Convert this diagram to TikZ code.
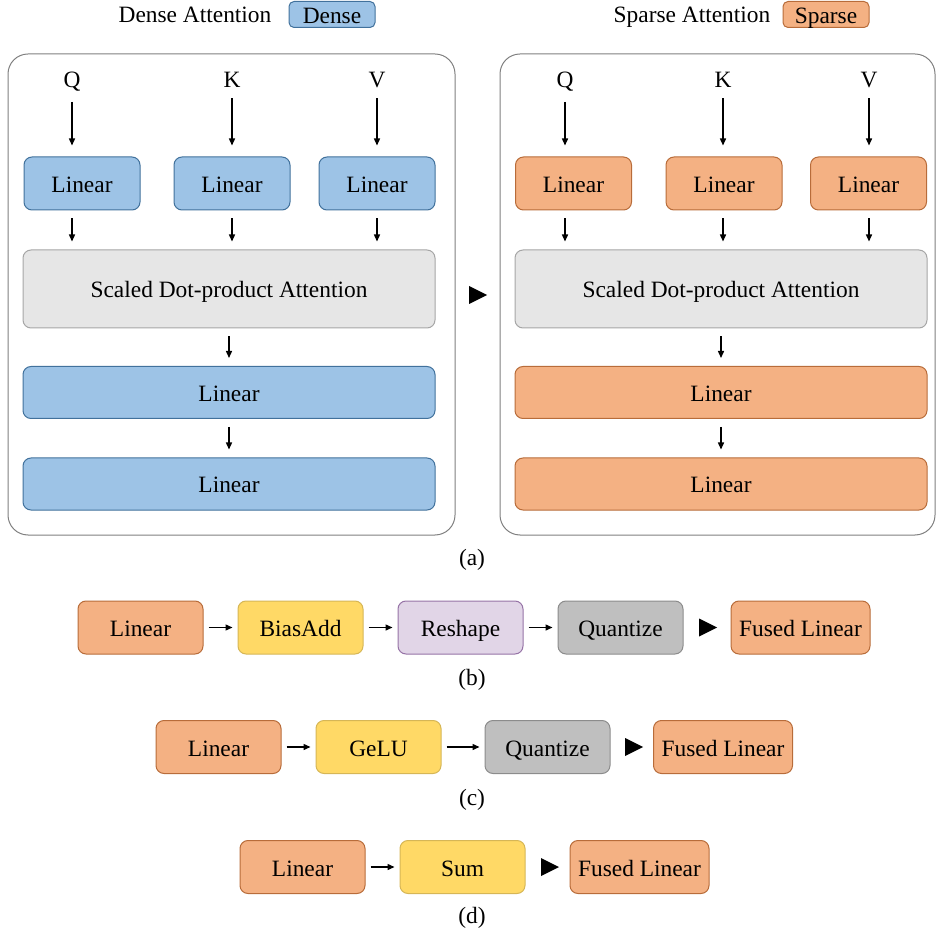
\documentclass[tikz,border=0pt]{standalone}
\usepackage{fontspec}
\setmainfont{Liberation Serif}
\usetikzlibrary{arrows.meta}
\definecolor{denseblue}{RGB}{157,195,230}
\definecolor{denseline}{RGB}{65,113,156}
\definecolor{sparseorange}{RGB}{244,177,131}
\definecolor{sparseline}{RGB}{184,108,58}
\definecolor{opyellow}{RGB}{255,217,102}
\definecolor{opyellowline}{RGB}{214,182,86}
\definecolor{oppurple}{RGB}{225,213,231}
\definecolor{oppurpleline}{RGB}{150,115,166}
\definecolor{opgray}{RGB}{191,191,191}
\definecolor{opgrayline}{RGB}{140,140,140}
\definecolor{attngray}{RGB}{230,230,230}
\definecolor{attnline}{RGB}{166,166,166}
\newcommand{\playtri}[2]{\fill (#1-9,#2-9) -- (#1+9,#2) -- (#1-9,#2+9) -- cycle;}

\begin{document}
\begin{tikzpicture}[x=0.5pt, y=-0.5pt, font=\fontsize{11.7}{13.5}\selectfont, blk/.style={draw, rounded corners=4pt, inner sep=0pt, line width=0.5pt, text height=9.3pt, text depth=0.3pt}, dense/.style={blk, fill=denseblue, draw=denseline}, sparse/.style={blk, fill=sparseorange, draw=sparseline}, attn/.style={blk, fill=attngray, draw=attnline, minimum width=206pt, minimum height=39pt}, small/.style={minimum width=58pt, minimum height=26.5pt}, wide/.style={minimum width=206pt, minimum height=26pt}, op/.style={minimum width=62.5pt, minimum height=26.5pt}, fused/.style={sparse, minimum width=69.5pt, minimum height=26.5pt}, panel/.style={draw=black!50, rounded corners=10pt, line width=0.5pt}, flow/.style={-{Triangle[length=3.5pt,width=3pt]}, line width=0.7pt, shorten <=4pt, shorten >=4pt}, inarr/.style={-{Triangle[length=3.5pt,width=3pt]}, line width=0.7pt, shorten <=1.5pt, shorten >=5.5pt}, hop/.style={-{Triangle[length=3.5pt,width=3pt]}, line width=0.7pt, shorten <=2.5pt, shorten >=2.5pt}, lbl/.style={anchor=base}]
\useasboundingbox (0,0) rectangle (937,935);

% legend
\node[lbl] (denselbl) at (195,23) {Dense Attention};
\node[dense, minimum width=43pt, minimum height=13pt, rounded corners=2.5pt] (densekey) at (332,14.5) {Dense};
\node[lbl] (sparselbl) at (692,23) {Sparse Attention};
\node[sparse, minimum width=43pt, minimum height=13pt, rounded corners=2.5pt] (sparsekey) at (826,14.5) {Sparse};

% (a) dense
\draw[panel] (8,54) rectangle (455,535);
\node[lbl] (dq) at (72,88) {Q};
\node[lbl] (dk) at (232,88) {K};
\node[lbl] (dv) at (377,88) {V};
\node[dense, small] (dlq) at (82,183.5) {Linear};
\node[dense, small] (dlk) at (232,183.5) {Linear};
\node[dense, small] (dlv) at (377,183.5) {Linear};
\node[attn] (dsdpa) at (229,289) {Scaled Dot-product Attention};
\node[dense, wide] (dout1) at (229,392.5) {Linear};
\node[dense, wide] (dout2) at (229,484) {Linear};
\draw[inarr] (dq) -- (dq |- dlq.north);
\draw[inarr] (dk) -- (dlk);
\draw[inarr] (dv) -- (dlv);
\draw[flow] (dlq.south -| dq) -- (dq |- dsdpa.north);
\draw[flow] (dlk) -- (dlk |- dsdpa.north);
\draw[flow] (dlv) -- (dlv |- dsdpa.north);
\draw[flow] (dsdpa.south) -- (dout1.north);
\draw[flow] (dout1.south) -- (dout2.north);

\playtri{478}{295}

% (a) sparse
\draw[panel] (500,54) rectangle (935,535);
\node[lbl] (sq) at (565,88) {Q};
\node[lbl] (sk) at (723,88) {K};
\node[lbl] (sv) at (869,88) {V};
\node[sparse, small] (slq) at (573.5,183.5) {Linear};
\node[sparse, small] (slk) at (724,183.5) {Linear};
\node[sparse, small] (slv) at (868.5,183.5) {Linear};
\node[attn] (ssdpa) at (721,289) {Scaled Dot-product Attention};
\node[sparse, wide] (sout1) at (721,392.5) {Linear};
\node[sparse, wide] (sout2) at (721,484) {Linear};
\draw[inarr] (sq) -- (sq |- slq.north);
\draw[inarr] (sk) -- (sk |- slk.north);
\draw[inarr] (sv) -- (sv |- slv.north);
\draw[flow] (slq.south -| sq) -- (sq |- ssdpa.north);
\draw[flow] (slk.south -| sk) -- (sk |- ssdpa.north);
\draw[flow] (slv.south -| sv) -- (sv |- ssdpa.north);
\draw[flow] (ssdpa.south) -- (sout1.north);
\draw[flow] (sout1.south) -- (sout2.north);
\node (capa) at (472,560) {(a)};

% (b)
\node[sparse, op] (blin) at (140.5,627.5) {Linear};
\node[blk, op, fill=opyellow, draw=opyellowline] (bbias) at (300.5,627.5) {BiasAdd};
\node[blk, op, fill=oppurple, draw=oppurpleline] (bshape) at (460.5,627.5) {Reshape};
\node[blk, op, fill=opgray, draw=opgrayline] (bquant) at (620.5,627.5) {Quantize};
\node[fused] (bfused) at (800.5,627.5) {Fused Linear};
\draw[hop] (blin) -- (bbias);
\draw[hop] (bbias) -- (bshape);
\draw[hop] (bshape) -- (bquant);
\playtri{708}{627.5}
\node (capb) at (472,680) {(b)};

% (c)
\node[sparse, op] (clin) at (218.5,747) {Linear};
\node[blk, op, fill=opyellow, draw=opyellowline] (cgelu) at (378.5,747) {GeLU};
\node[blk, op, fill=opgray, draw=opgrayline] (cquant) at (547.5,747) {Quantize};
\node[fused] (cfused) at (723,747) {Fused Linear};
\draw[hop] (clin) -- (cgelu);
\draw[hop] (cgelu) -- (cquant);
\playtri{634}{747}
\node (capc) at (472,800) {(c)};

% (d)
\node[sparse, op] (dlin) at (302.5,867) {Linear};
\node[blk, op, fill=opyellow, draw=opyellowline] (dsum) at (462.5,867) {Sum};
\node[fused] (dfused) at (639.5,867) {Fused Linear};
\draw[hop] (dlin) -- (dsum);
\playtri{550}{867}
\node (capd) at (472,918) {(d)};
\end{tikzpicture}
\end{document}
